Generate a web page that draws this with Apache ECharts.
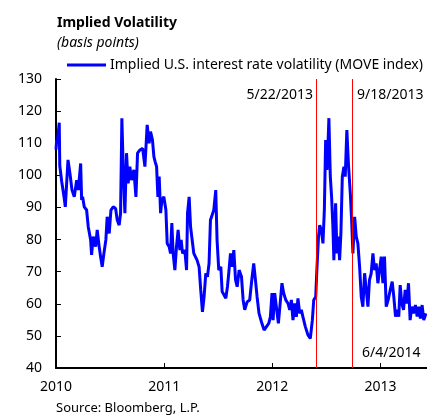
<!DOCTYPE html>
<html>
<head>
<meta charset="utf-8">
<script src="https://cdn.jsdelivr.net/npm/echarts@6/dist/echarts.min.js"></script>
<style>
  html, body { margin: 0; padding: 0; background: #fff; }
  #chart { width: 427px; height: 417px; }
</style>
</head>
<body>
<div id="chart"></div>
<script>
// decimal year positions on the axis
const years = [
  2010.000, 2010.006, 2010.012, 2010.030, 2010.035, 2010.053, 2010.074, 2010.086, 2010.111, 2010.129,
  2010.148, 2010.169, 2010.191, 2010.206, 2010.228, 2010.237, 2010.246, 2010.261, 2010.283, 2010.298,
  2010.320, 2010.329, 2010.344, 2010.366, 2010.381, 2010.399, 2010.412, 2010.427, 2010.443, 2010.461,
  2010.473, 2010.492, 2010.508, 2010.529, 2010.551, 2010.566, 2010.584, 2010.597, 2010.609, 2010.621,
  2010.637, 2010.652, 2010.667, 2010.683, 2010.698, 2010.720, 2010.739, 2010.754, 2010.776, 2010.801,
  2010.822, 2010.843, 2010.861, 2010.874, 2010.892, 2010.905, 2010.917, 2010.930, 2010.942, 2010.954,
  2010.967, 2010.979, 2010.997, 2011.016, 2011.028, 2011.046, 2011.059, 2011.071, 2011.083, 2011.099,
  2011.114, 2011.129, 2011.145, 2011.157, 2011.170, 2011.191, 2011.207, 2011.216, 2011.231, 2011.244,
  2011.258, 2011.274, 2011.292, 2011.304, 2011.323, 2011.338, 2011.354, 2011.369, 2011.385, 2011.400,
  2011.415, 2011.428, 2011.443, 2011.459, 2011.477, 2011.489, 2011.505, 2011.524, 2011.536, 2011.554,
  2011.570, 2011.585, 2011.597, 2011.613, 2011.628, 2011.644, 2011.660, 2011.675, 2011.693, 2011.715,
  2011.730, 2011.745, 2011.767, 2011.791, 2011.810, 2011.828, 2011.844, 2011.859, 2011.877, 2011.899,
  2011.924, 2011.946, 2011.967, 2011.982, 2011.997, 2012.007, 2012.022, 2012.037, 2012.056, 2012.074,
  2012.089, 2012.105, 2012.124, 2012.145, 2012.161, 2012.176, 2012.191, 2012.207, 2012.222, 2012.237,
  2012.253, 2012.268, 2012.283, 2012.305, 2012.329, 2012.351, 2012.370, 2012.383, 2012.401, 2012.413,
  2012.427, 2012.438, 2012.453, 2012.468, 2012.481, 2012.493, 2012.505, 2012.514, 2012.523, 2012.536,
  2012.548, 2012.560, 2012.569, 2012.585, 2012.597, 2012.610, 2012.622, 2012.634, 2012.647, 2012.662,
  2012.674, 2012.689, 2012.705, 2012.721, 2012.733, 2012.745, 2012.761, 2012.776, 2012.791, 2012.807,
  2012.822, 2012.837, 2012.853, 2012.868, 2012.884, 2012.898, 2012.914, 2012.930, 2012.945, 2012.960,
  2012.976, 2012.991, 2013.007, 2013.022, 2013.037, 2013.053, 2013.071, 2013.090, 2013.108, 2013.123,
  2013.139, 2013.154, 2013.169, 2013.182, 2013.197, 2013.213, 2013.228, 2013.243, 2013.259, 2013.274,
  2013.289, 2013.305, 2013.323, 2013.339, 2013.354, 2013.369, 2013.385, 2013.400, 2013.420
];
// MOVE index, basis points
const move = [
  108.0, 111.0, 110.0, 116.4, 103.0, 98.0, 93.3, 90.2, 104.8, 100.6,
  95.4, 93.3, 98.5, 95.4, 103.7, 92.3, 93.3, 90.2, 89.2, 84.0,
  79.9, 75.2, 80.9, 77.8, 83.0, 77.8, 74.7, 71.5, 75.7, 79.9,
  87.1, 81.9, 89.2, 90.2, 89.7, 86.1, 84.5, 88.2, 117.8, 102.7,
  88.2, 106.9, 97.5, 102.7, 98.5, 101.7, 93.3, 106.9, 107.9, 108.4,
  102.7, 115.7, 110.0, 113.6, 111.0, 105.8, 104.2, 102.7, 93.3, 99.6,
  88.2, 92.3, 93.3, 89.2, 78.8, 77.8, 75.7, 85.1, 75.7, 70.5,
  77.8, 83.0, 76.7, 79.9, 75.7, 76.7, 70.5, 88.2, 93.3, 84.0,
  84.0, 75.7, 75.7, 73.6, 71.5, 64.3, 57.5, 62.2, 69.5, 68.4,
  72.6, 86.1, 87.6, 89.2, 95.4, 79.9, 70.5, 71.5, 63.8, 63.3,
  61.7, 65.3, 69.5, 75.7, 71.5, 76.7, 67.4, 65.3, 70.5, 68.4,
  61.2, 58.1, 60.6, 61.2, 67.4, 72.6, 67.4, 62.2, 57.0, 54.4,
  51.8, 52.9, 53.9, 55.9, 63.3, 54.9, 63.3, 59.1, 53.9, 53.9,
  66.4, 63.3, 61.2, 60.1, 58.1, 61.2, 54.9, 60.1, 55.9, 61.7,
  57.0, 58.1, 55.9, 52.9, 50.3, 49.2, 54.9, 61.2, 62.2, 71.5,
  80.9, 84.5, 83.0, 78.8, 89.2, 111.0, 101.7, 108.9, 117.8, 99.6,
  93.3, 84.0, 73.6, 91.3, 75.7, 80.9, 73.6, 81.9, 99.6, 102.7,
  99.6, 114.1, 102.7, 94.4, 86.1, 75.7, 87.1, 80.9, 78.8, 71.5,
  62.2, 59.1, 69.5, 69.5, 59.1, 67.4, 69.5, 75.7, 70.5, 72.6,
  66.4, 70.5, 74.7, 66.4, 74.7, 59.1, 61.2, 64.3, 66.9, 62.2,
  56.0, 58.1, 56.0, 65.8, 60.1, 58.1, 64.3, 60.1, 66.4, 54.9,
  59.1, 57.0, 59.6, 56.0, 59.1, 55.4, 59.6, 54.9, 57.0
];
const eventLines = [2012.413, 2012.740]; // 5/22/2013 and 9/18/2013
const xTicks = [2010, 2011, 2012, 2013];
const yMin = 40, yMax = 130, yStep = 10;

const chart = echarts.init(document.getElementById("chart"));
const font = "Noto Sans";

chart.setOption({
  animation: false,
  backgroundColor: "#fff",
  textStyle: { fontFamily: font, color: "#000" },
  title: {
    text: "Implied Volatility",
    subtext: "(basis points)",
    left: 57,
    top: 16,
    padding: 0,
    itemGap: 6,
    textStyle: { fontFamily: font, fontSize: 14, fontWeight: "bold", color: "#000" },
    subtextStyle: { fontFamily: font, fontSize: 14, fontStyle: "italic", color: "#000" }
  },
  legend: {
    left: 67,
    top: 58,
    padding: 0,
    icon: "rect",
    itemWidth: 39,
    itemHeight: 3,
    itemGap: 4,
    textStyle: { fontFamily: font, fontSize: 14, color: "#000", padding: [0, 0, 0, -1] },
    data: ["Implied U.S. interest rate volatility (MOVE index)"]
  },
  grid: { left: 56, right: 0, top: 79, bottom: 49 },
  xAxis: {
    type: "value",
    min: xTicks[0],
    max: 2013.43,
    interval: 1,
    splitLine: { show: false },
    axisLine: { lineStyle: { color: "#000", width: 2 } },
    axisTick: { inside: true, length: 5, lineStyle: { color: "#000" } },
    axisLabel: {
      margin: 12,
      fontSize: 14,
      color: "#000",
      showMaxLabel: false,
      formatter: v => (xTicks.indexOf(v) >= 0 ? String(v) : "")
    }
  },
  yAxis: {
    type: "value",
    min: yMin,
    max: yMax,
    interval: yStep,
    splitLine: { show: false },
    axisLine: { show: true, lineStyle: { color: "#000", width: 2 } },
    axisTick: { show: true, inside: true, length: 5, lineStyle: { color: "#000" } },
    axisLabel: { margin: 14, fontSize: 14, color: "#000" }
  },
  graphic: [
    { type: "text", right: 114, top: 88, style: { text: "5/22/2013", font: "14px " + font, fill: "#000" } },
    { type: "text", left: 357, top: 88, style: { text: "9/18/2013", font: "14px " + font, fill: "#000" } },
    { type: "text", left: 362, top: 346, style: { text: "6/4/2014", font: "14px " + font, fill: "#000" } },
    { type: "text", left: 56, top: 402, style: { text: "Source: Bloomberg, L.P.", font: "13px " + font, fill: "#000" } }
  ],
  series: [
    {
      name: "Implied U.S. interest rate volatility (MOVE index)",
      type: "line",
      showSymbol: false,
      color: "#0000ff",
      lineStyle: { color: "#0000ff", width: 3 },
      data: years.map((y, i) => [y, move[i]]),
      markLine: {
        silent: true,
        symbol: "none",
        label: { show: false },
        lineStyle: { color: "#ff0000", width: 1, type: "solid" },
        data: eventLines.map(x => ({ xAxis: x }))
      }
    }
  ]
});
</script>
</body>
</html>
